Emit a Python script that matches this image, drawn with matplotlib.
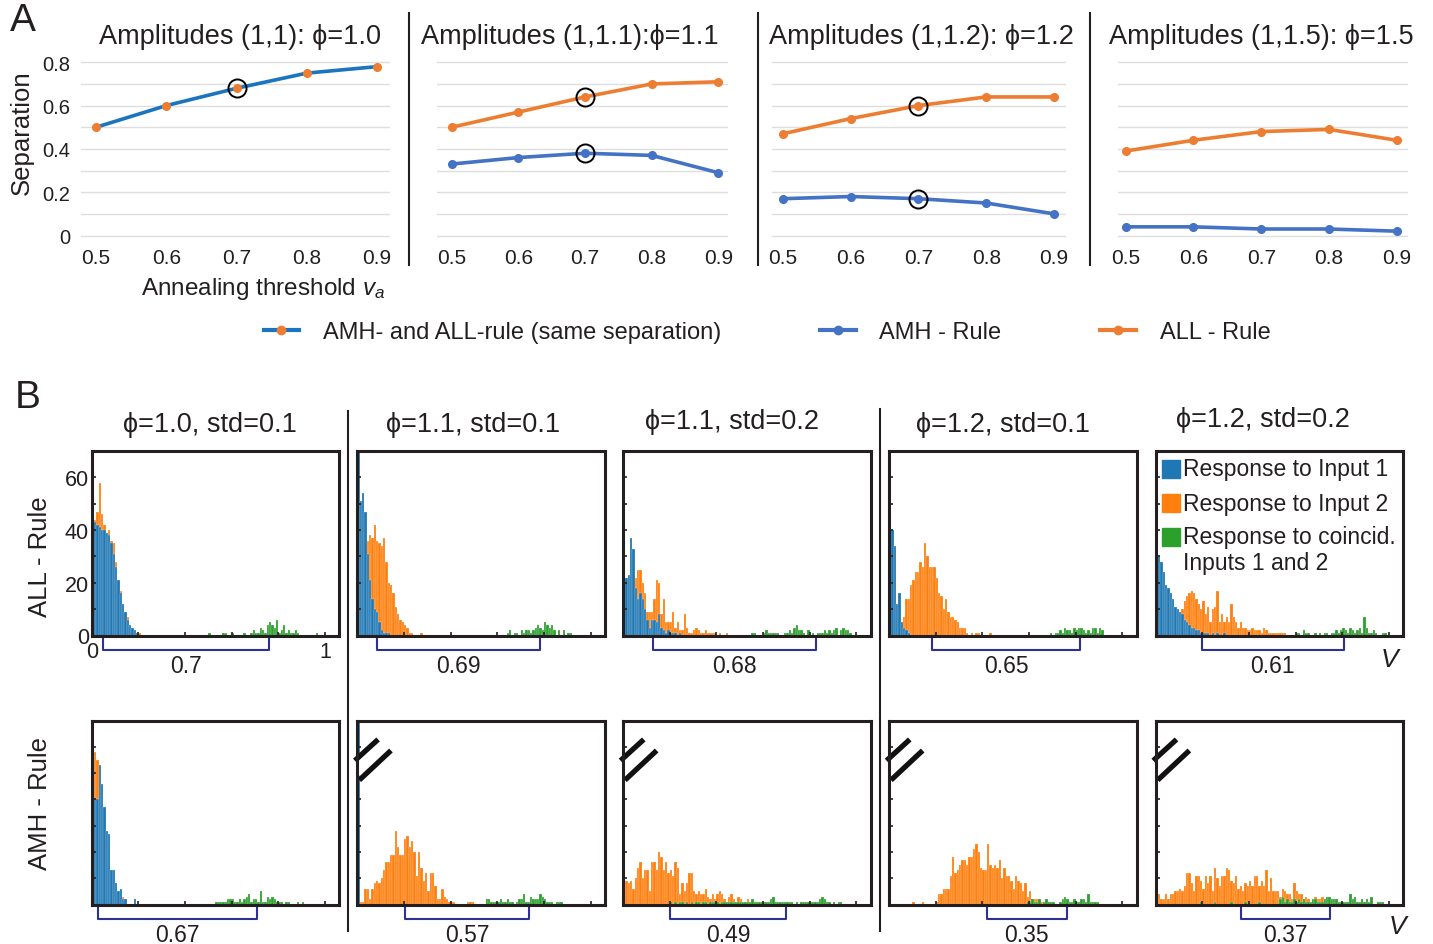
import numpy as np
import matplotlib
matplotlib.use('Agg')
import matplotlib.pyplot as plt
from matplotlib.lines import Line2D
from matplotlib.patches import Rectangle
import matplotlib.transforms as mtransforms

plt.rcParams['font.family'] = ['Liberation Sans', 'DejaVu Sans']
plt.rcParams['mathtext.fontset'] = 'custom'
plt.rcParams['mathtext.it'] = 'Liberation Sans:italic'
plt.rcParams['mathtext.rm'] = 'Liberation Sans'

# ---------------- Panel A data ----------------
thresholds = [0.5, 0.6, 0.7, 0.8, 0.9]
tick_labels_a = ['0.5', '0.6', '0.7', '0.8', '0.9']
titles_a = ['Amplitudes (1,1): ϕ=1.0', 'Amplitudes (1,1.1):ϕ=1.1',
            'Amplitudes (1,1.2): ϕ=1.2', 'Amplitudes (1,1.5): ϕ=1.5']
same_sep = [0.50, 0.60, 0.68, 0.75, 0.78]
amh_11 = [0.33, 0.36, 0.38, 0.37, 0.29]
all_11 = [0.50, 0.57, 0.64, 0.70, 0.71]
amh_12 = [0.17, 0.18, 0.17, 0.15, 0.10]
all_12 = [0.47, 0.54, 0.60, 0.64, 0.64]
amh_15 = [0.04, 0.04, 0.03, 0.03, 0.02]
all_15 = [0.39, 0.44, 0.48, 0.49, 0.44]
legend_a = ['AMH- and ALL-rule (same separation)', 'AMH - Rule', 'ALL - Rule']

# ---------------- Panel B data (counts per 0.01 bin, starting at v=0) ----------------
col_titles = ['ϕ=1.0, std=0.1', 'ϕ=1.1, std=0.1', 'ϕ=1.1, std=0.2',
              'ϕ=1.2, std=0.1', 'ϕ=1.2, std=0.2']
sep_all = ['0.7', '0.69', '0.68', '0.65', '0.61']
sep_amh = ['0.67', '0.57', '0.49', '0.35', '0.37']
bracket_all = [(0.048, 0.76), (0.086, 0.785), (0.13, 0.827), (0.185, 0.82), (0.197, 0.808)]
bracket_amh = [(0.028, 0.708), (0.206, 0.735), (0.20, 0.70), (0.419, 0.762), (0.364, 0.747)]
legend_b = ['Response to Input 1', 'Response to Input 2', 'Response to coincid.\nInputs 1 and 2']

all1_blue = [43, 43, 42, 41, 40, 40, 39, 38, 35, 31, 26, 21, 16, 12, 9, 6, 4, 3, 2, 1]
all1_orange = [40, 44, 47, 58, 46, 42, 38, 40, 36, 35, 28, 20, 17, 10, 7, 7, 4, 2, 1, 1, 1]
all1_green = [0]*50 + [1, 0, 0, 0, 0, 0, 1, 1, 0, 0, 1, 0, 0, 0, 0, 1, 0, 0, 1, 2,
                       1, 1, 3, 2, 1, 4, 5, 4, 3, 6, 1, 2, 4, 1, 2, 1, 1, 2, 1, 0,
                       0, 0, 0, 0, 0, 0, 1]

all2_blue = [75, 51, 54, 47, 31, 21, 14, 10, 9, 5, 2, 1, 1, 1]
all2_orange = [20, 25, 30, 36, 36, 38, 37, 42, 36, 35, 34, 37, 28, 20, 19, 16, 11, 8, 6, 5,
               4, 3, 1, 1, 0, 0, 0, 1]
all2_green = [0]*64 + [1, 2, 0, 1, 1, 0, 2, 1, 2, 2, 1, 2, 3, 4, 3, 2, 5, 4, 3, 4,
                       2, 0, 2, 0, 2, 0, 1, 1, 0]

all3_blue = [80, 22, 23, 37, 33, 18, 14, 16, 14, 10, 6, 3, 6, 6, 5, 8, 3, 2, 1, 2,
             1, 1, 1, 0, 1]
all3_orange = [10, 12, 15, 18, 20, 22, 25, 25, 20, 16, 9, 9, 9, 14, 21, 20, 8, 14, 5, 5,
               5, 9, 3, 5, 2, 2, 8, 3, 1, 1, 2, 3, 2, 1, 1, 2, 1, 1, 1, 1,
               0, 1, 0, 0, 1]
all3_green = [0]*55 + [1, 1, 0, 0, 0, 1, 2, 1, 1, 1, 1, 1, 0, 0, 1, 1, 2, 1, 3, 4,
                       2, 2, 1, 0, 2, 0, 1, 0, 1, 1, 1, 2, 1, 2, 1, 2, 3, 0, 2, 3,
                       2, 2, 1]

all4_blue = [80, 40, 34, 12, 16, 5, 3, 2, 1]
all4_orange = [0, 0, 1, 2, 5, 5, 7, 14, 14, 19, 21, 24, 24, 28, 26, 35, 30, 26, 26, 26,
               22, 16, 15, 10, 14, 9, 7, 7, 6, 5, 3, 3, 3, 1, 0, 1, 0, 1, 1, 0,
               0, 0, 0, 1]
all4_green = [0]*69 + [1, 0, 1, 1, 2, 1, 3, 2, 2, 1, 3, 2, 3, 3, 2, 1, 2, 1, 3, 3,
                       1, 3, 2, 0]

all5_blue = [80, 30, 28, 24, 19, 18, 16, 14, 11, 10, 9, 8, 6, 5, 4, 3, 3, 2, 2, 1,
             1, 1, 1, 0, 1, 0, 1, 0, 0, 1]
all5_orange = [0]*5 + [2, 3, 4, 5, 7, 8, 10, 13, 15, 16, 17, 16, 14, 12, 10, 13, 8,
                       11, 5, 10, 11, 17, 5, 8, 5, 7, 5, 12, 7, 5, 3, 5, 3, 3, 2, 2, 3,
                       2, 2, 2, 1, 3, 2, 1, 1, 1, 1, 1, 1, 1, 1]
all5_green = [0]*60 + [1, 1, 0, 2, 1, 1, 0, 0, 1, 0, 1, 0, 1, 1, 0, 1, 1, 2, 1, 2,
                       3, 2, 1, 3, 2, 1, 2, 3, 1, 7, 3, 1, 1, 2, 1, 0, 0, 1, 1, 0]

amh1_blue = [57, 40, 40, 53, 46, 37, 28, 27, 13, 13, 8, 5, 6, 2, 2, 0, 0, 0, 2]
amh1_orange = [50, 58, 55, 40, 35, 30, 20, 20, 10, 10, 6, 5, 4, 3, 1]
amh1_green = [0]*53 + [1, 1, 1, 1, 1, 2, 2, 2, 1, 1, 2, 1, 2, 3, 4, 1, 2, 2, 1, 5,
                       1, 1, 3, 2, 3, 2, 1, 1, 1, 0, 1, 1, 0, 0, 0, 1, 0, 1]

amh2_blue = [100]
amh2_orange = [0, 1, 1, 6, 6, 2, 6, 8, 9, 8, 10, 13, 16, 16, 19, 19, 28, 22, 19, 19,
               25, 26, 22, 24, 20, 11, 20, 14, 9, 12, 5, 12, 12, 7, 2, 2, 6, 3, 2, 1,
               1, 1, 0, 0, 0, 0, 0, 1, 1, 1]
amh2_green = [0]*55 + [2, 2, 1, 1, 1, 1, 2, 1, 1, 2, 1, 1, 0, 1, 2, 2, 4, 1, 1, 3,
                       2, 2, 2, 4, 3, 2, 1, 1, 1, 0, 1, 1, 1]

amh3_blue = [100]
amh3_orange = [6, 9, 8, 9, 6, 10, 14, 16, 10, 13, 13, 5, 16, 16, 13, 20, 18, 13, 16, 12,
               13, 11, 16, 14, 4, 8, 5, 8, 12, 12, 5, 4, 5, 4, 4, 6, 3, 2, 4, 2,
               4, 5, 4, 2, 1, 3, 4, 2, 1, 3, 2, 1, 1, 2, 1, 1, 1, 1, 1, 1,
               1, 1, 1, 1]
amh3_green = [0]*20 + [1, 0, 1, 0, 1, 1, 0, 1, 0, 1, 0, 1, 1, 0, 1, 1, 0, 1, 1, 1,
                       1, 0, 1, 1, 1, 1, 1, 1, 1, 1, 1, 1, 1, 1, 1, 2, 1, 1, 1, 1,
                       1, 1, 1, 2, 3, 1, 1, 1, 1, 1, 1, 1, 1, 0, 1, 0, 1, 1, 1, 1,
                       1, 1, 1, 1, 2, 3, 2, 1, 1, 0, 1, 0, 1, 1]

amh4_blue = [100]
amh4_orange = [0]*10 + [1, 0, 0, 0, 1, 0, 0, 0, 0, 0, 1, 4, 4, 6, 6, 6, 11, 18, 12, 13,
                        15, 17, 17, 15, 18, 18, 21, 23, 20, 14, 13, 13, 23, 15, 14, 15, 14, 17, 10, 14,
                        11, 11, 9, 6, 11, 9, 8, 5, 8, 3, 5, 2, 2, 2, 1, 1, 1, 1, 1, 1, 1]
amh4_green = [0]*59 + [1, 1, 2, 1, 1, 2, 0, 1, 2, 1, 1, 1, 0, 0, 1, 2, 3, 2, 1, 1,
                       2, 1, 1, 2, 2, 1, 4, 1, 1, 1, 1]

amh5_blue = [100]
amh5_orange = [4, 4, 2, 2, 4, 2, 4, 4, 5, 5, 6, 5, 7, 12, 12, 8, 5, 11, 11, 9,
               6, 11, 8, 11, 5, 14, 10, 7, 11, 11, 14, 13, 9, 8, 11, 6, 7, 5, 8, 7,
               9, 7, 11, 11, 7, 9, 7, 13, 5, 10, 5, 5, 5, 3, 6, 5, 4, 4, 2, 8,
               5, 4, 4, 2, 3, 2, 1, 2, 3, 2, 2, 3, 2, 2, 1, 1, 1, 1, 1, 1,
               1, 1, 1, 1, 1, 1, 1, 1, 2, 1, 1]
amh5_green = [0]*19 + [1, 0, 0, 0, 0, 0, 1, 0, 0, 0, 0, 0, 0, 1, 0, 0, 0, 0, 0, 1,
                       0, 0, 0, 0, 0, 1, 0, 0, 0, 0, 0, 0, 0, 0] + \
             [2, 3, 1, 2, 1, 1, 2, 1, 2, 1, 2, 1, 1, 1, 2, 2, 1, 1, 1, 2,
              3, 3, 2, 2, 2, 1, 1, 1, 1, 1, 4, 2, 3, 1, 1, 2, 1, 2, 1, 3,
              0, 0, 1, 1, 1]

hist_all = [(all1_orange, all1_blue, all1_green), (all2_orange, all2_blue, all2_green),
            (all3_orange, all3_blue, all3_green), (all4_orange, all4_blue, all4_green),
            (all5_orange, all5_blue, all5_green)]
hist_amh = [(amh1_orange, amh1_blue, amh1_green), (amh2_orange, amh2_blue, amh2_green),
            (amh3_orange, amh3_blue, amh3_green), (amh4_orange, amh4_blue, amh4_green),
            (amh5_orange, amh5_blue, amh5_green)]

# ---------------- styling ----------------
W, H = 1433, 945
BLUE1 = '#1a74c0'
BLUE2 = '#4472c4'
ORANGE = '#ed7d31'
H_BLUE = '#1f77b4'
H_ORANGE = '#ff7f0e'
H_GREEN = '#2ca02c'
BRACKET = '#2e3192'
INK = '#231f20'
BIN = 0.01

fig = plt.figure(figsize=(W / 100, H / 100), dpi=100)


def fx(px):
    return px / W


def fy(py):
    return 1 - py / H


def add_ax(left, top, right, bottom):
    return fig.add_axes([fx(left), fy(bottom), (right - left) / W, (bottom - top) / H])


def vline(x, y0, y1, lw=1.5):
    fig.add_artist(Line2D([fx(x), fx(x)], [fy(y0), fy(y1)], color=INK, lw=lw))


# ---------------- Panel A ----------------
a_layout = [(81, 390, 96, 377), (437, 728, 451.7, 718.3),
            (772, 1066, 783, 1054), (1118, 1408, 1125.7, 1396.8)]
a_title_centers = [240, 570, 921, 1261]
series_a = [[(same_sep, BLUE1, ORANGE)],
            [(all_11, ORANGE, ORANGE), (amh_11, BLUE2, BLUE2)],
            [(all_12, ORANGE, ORANGE), (amh_12, BLUE2, BLUE2)],
            [(all_15, ORANGE, ORANGE), (amh_15, BLUE2, BLUE2)]]
circled = [[same_sep], [all_11, amh_11], [all_12, amh_12], []]

for i, (left, right, x05, x09) in enumerate(a_layout):
    ax = add_ax(left, 59, right, 241)
    scale = (x09 - x05) / 0.4
    ax.set_xlim(0.5 - (x05 - left) / scale, 0.9 + (right - x09) / scale)
    ax.set_ylim(-(241 - 236.5) / 216.5, 0.8 + (63.3 - 59) / 216.5)
    for s in ax.spines.values():
        s.set_visible(False)
    ax.set_yticks([0, 0.2, 0.4, 0.6, 0.8])
    ax.set_yticks([0.1, 0.3, 0.5, 0.7], minor=True)
    ax.grid(True, which='both', axis='y', color='#dedede', lw=1.0)
    ax.set_axisbelow(True)
    ax.set_xticks(thresholds)
    ax.set_xticklabels(tick_labels_a, fontsize=15, color=INK)
    if i == 0:
        ax.set_yticklabels(['0', '0.2', '0.4', '0.6', '0.8'], fontsize=14.5, color=INK)
    else:
        ax.set_yticklabels([])
    ax.tick_params(which='both', length=0, pad=6)
    ax.tick_params(axis='y', pad=8)
    for vals, lc, mc in series_a[i]:
        ax.plot(thresholds, vals, color=lc, lw=2.6, marker='o', markersize=5.5,
                markerfacecolor=mc, markeredgecolor=mc, solid_capstyle='round')
    for vals in circled[i]:
        ax.plot([thresholds[2]], [vals[2]], marker='o', markersize=13, markerfacecolor='none',
                markeredgecolor='black', mew=1.4, ls='none')
    ax.set_title(titles_a[i], fontsize=19.5, pad=11, color=INK,
                 x=(a_title_centers[i] - left) / (right - left))

fig.text(fx(22), fy(133), 'Separation', rotation=90, fontsize=18.5, ha='center', va='center', color=INK)
fig.text(fx(263), fy(289), 'Annealing threshold $v_a$', fontsize=17.5, ha='center', va='center', color=INK)
fig.text(fx(23), fy(21), 'A', fontsize=28, ha='center', va='center', color=INK)

for x in (409, 758, 1090):
    vline(x, 14, 266)

handles = [Line2D([], [], color=BLUE1, lw=3, marker='o', markersize=6,
                  markerfacecolor=ORANGE, markeredgecolor=ORANGE),
           Line2D([], [], color=BLUE2, lw=3, marker='o', markersize=6,
                  markerfacecolor=BLUE2, markeredgecolor=BLUE2),
           Line2D([], [], color=ORANGE, lw=3, marker='o', markersize=6,
                  markerfacecolor=ORANGE, markeredgecolor=ORANGE)]
fig.legend(handles, legend_a, loc='center', bbox_to_anchor=(fx(767), fy(333)), ncol=3,
           frameon=False, fontsize=17, handlelength=1.5, handletextpad=1.0,
           columnspacing=4.2, labelcolor=INK)

# ---------------- Panel B ----------------
col_lefts = [91.7, 357.3, 623, 889, 1155.7]
col_width = 247.5
rows = [(452, 636.5), (721.5, 905.5)]
title_pos = [(210, 425), (473, 425), (732, 422), (1003, 425), (1263, 420)]


def draw_hist(ax, orange, blue, green):
    for vals, c in ((orange, H_ORANGE), (blue, H_BLUE), (green, H_GREEN)):
        xs = np.arange(len(vals)) * BIN
        ax.bar(xs, vals, width=BIN, align='edge', color=c, edgecolor='white', linewidth=0.15)


for r, (top, bottom) in enumerate(rows):
    data = hist_all if r == 0 else hist_amh
    brackets = bracket_all if r == 0 else bracket_amh
    seps = sep_all if r == 0 else sep_amh
    for c, left in enumerate(col_lefts):
        ax = add_ax(left, top, left + col_width, bottom)
        draw_hist(ax, *data[c])
        ax.set_xlim(0, col_width / 233.3)
        ax.set_ylim(0, 70)
        for s in ax.spines.values():
            s.set_linewidth(2.2)
            s.set_color(INK)
        ax.set_xticks([0, 0.2, 0.4, 0.6, 0.8, 1.0])
        ax.set_yticks(range(0, 71, 10))
        ax.tick_params(direction='in', length=3, width=1.2, colors=INK, labelsize=15.5,
                       top=False, right=False, pad=3)
        if r == 0 and c == 0:
            ax.set_xticklabels(['0', '', '', '', '', '1'])
            ax.set_yticklabels(['0', '', '20', '', '40', '', '60', ''])
            ax.tick_params(axis='x', pad=4)
            ax.tick_params(axis='y', pad=2)
        else:
            ax.set_xticklabels([])
            ax.set_yticklabels([])
        # separation bracket
        a, b = brackets[c]
        tr = mtransforms.blended_transform_factory(ax.transData, ax.transAxes)
        d = 14 / (bottom - top)
        ax.plot([a, a, b, b], [0, -d, -d, 0], transform=tr, clip_on=False,
                color=BRACKET, lw=1.5)
        ax.text((a + b) / 2, -d - 16 / (bottom - top), seps[c], transform=tr,
                ha='center', va='center', fontsize=16.5, color=INK)
        # axis-break marks for off-scale bin at v=0
        if r == 1 and c > 0:
            ax.plot([-0.035, 0.05], [0.69, 0.80], transform=ax.transAxes, color='white',
                    lw=9, clip_on=False, solid_capstyle='butt')
            ax.plot([-0.01, 0.084], [0.782, 0.897], transform=ax.transAxes, color='#111111',
                    lw=3.8, clip_on=False, solid_capstyle='butt')
            ax.plot([0.008, 0.136], [0.676, 0.837], transform=ax.transAxes, color='#111111',
                    lw=3.8, clip_on=False, solid_capstyle='butt')
        if r == 0:
            tx, ty = title_pos[c]
            fig.text(fx(tx), fy(ty), col_titles[c], fontsize=19.5, ha='center', va='center', color=INK)

# legend inside last ALL-rule panel
leg_rows = [(470, H_BLUE), (504, H_ORANGE), (538, H_GREEN)]
for (yc, colr), lab in zip(leg_rows, legend_b):
    fig.add_artist(Rectangle((fx(1162), fy(yc + 9)), 18 / W, 18 / H, color=colr,
                             transform=fig.transFigure))
    if '\n' in lab:
        fig.text(fx(1183), fy(yc - 12), lab, fontsize=16.5, ha='left', va='top', color=INK,
                 linespacing=1.15)
    else:
        fig.text(fx(1183), fy(yc), lab, fontsize=16.5, ha='left', va='center', color=INK)

fig.text(fx(1390), fy(660), 'V', fontsize=19, style='italic', ha='center', va='center', color=INK)
fig.text(fx(1398), fy(927), 'V', fontsize=19, style='italic', ha='center', va='center', color=INK)

fig.text(fx(40), fy(557), 'ALL - Rule', rotation=90, fontsize=18.5, ha='center', va='center', color=INK)
fig.text(fx(40), fy(803), 'AMH - Rule', rotation=90, fontsize=18.5, ha='center', va='center', color=INK)
fig.text(fx(28), fy(398), 'B', fontsize=28, ha='center', va='center', color=INK)

vline(348, 412, 932)
vline(880, 410, 932)

fig.savefig('out.png', dpi=100)
